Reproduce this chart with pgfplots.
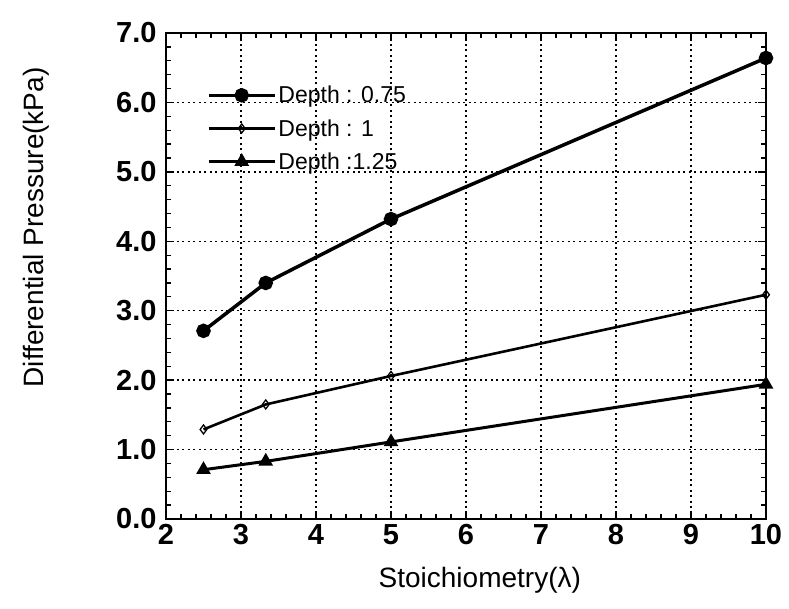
\documentclass[border=0pt]{standalone}
\usepackage{pgfplots}
\pgfplotsset{compat=1.18}
\usepackage{fontspec}
\setmainfont{Liberation Sans}
\begin{document}
\begin{tikzpicture}
\begin{axis}[
  scale only axis,
  width=600bp, height=486bp,
  xmin=2, xmax=10, ymin=0, ymax=7,
  xtick={2,3,...,10}, ytick={0,1,...,7},
  minor x tick num=4, minor y tick num=4,
  tick align=inside,
  major tick length=8bp, minor tick length=5bp,
  every tick/.style={black, line width=1.3bp},
  axis line style={line width=2.2bp},
  grid=major,
  major grid style={black, line width=1.5bp, dash pattern=on 2bp off 3.5bp},
  /pgf/number format/assume math mode=true,
  yticklabel style={/pgf/number format/fixed,/pgf/number format/precision=1,/pgf/number format/fixed zerofill, xshift=-6bp},
  ticklabel style={font=\fontsize{29bp}{32bp}\selectfont\bfseries},
  xticklabel style={yshift=-2bp},
  label style={font=\fontsize{28bp}{31bp}\selectfont},
  xlabel={Stoichiometry(λ)},
  ylabel={Differential Pressure(kPa)},
  xlabel style={at={(axis description cs:0.523,-0.126)}, anchor=center},
  ylabel style={at={(axis description cs:-0.217,0.6)}, anchor=center},
  legend style={draw=none, fill=none, at={(axis description cs:0.068,0.895)}, anchor=north west,
    font=\fontsize{23bp}{25bp}\selectfont, row sep=11bp, inner sep=0pt,
    /tikz/every even column/.append style={column sep=2bp}},
  legend cell align=left,
  legend image code/.code={\draw[mark repeat=2,mark phase=2,#1] plot coordinates {(0bp,0bp) (33bp,0bp) (66bp,0bp)};},
  clip=false,
]
\addplot[black, line width=3.5bp, mark=*, mark size=5.5bp] coordinates {(2.5,2.71) (3.33,3.40) (5,4.32) (10,6.64)};
\addlegendentry{Depth : 0.75}
\addplot[black, line width=2.6bp, mark=diamond, mark size=4.5bp, mark options={line width=1.3bp, fill=white}] coordinates {(2.5,1.29) (3.33,1.65) (5,2.06) (10,3.23)};
\addlegendentry{Depth : 1}
\addplot[black, line width=3bp, mark=triangle*, mark size=5.5bp] coordinates {(2.5,0.71) (3.33,0.83) (5,1.11) (10,1.94)};
\addlegendentry{Depth :1.25}
\end{axis}
\pgfresetboundingbox
\path[use as bounding box] (-166bp,-90bp) rectangle (623bp,519bp);
\end{tikzpicture}
\end{document}
